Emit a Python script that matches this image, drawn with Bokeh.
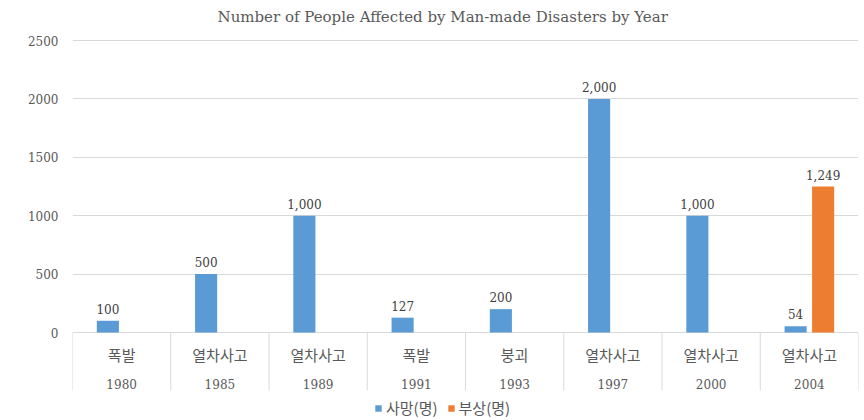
from bokeh.plotting import figure
from bokeh.models import ColumnDataSource, Range1d, FixedTicker, Legend, LegendItem
from bokeh.transform import dodge
from bokeh.core.properties import value
from bokeh.embed import file_html
from bokeh.resources import INLINE

# ---- data ----
disaster_types = ["폭발", "열차사고", "열차사고", "폭발", "붕괴", "열차사고", "열차사고", "열차사고"]
years = ["1980", "1985", "1989", "1991", "1993", "1997", "2000", "2004"]
deaths = [100, 500, 1000, 127, 200, 2000, 1000, 54]
injuries = [0, 0, 0, 0, 0, 0, 0, 1249]
y_ticks = [0, 500, 1000, 1500, 2000, 2500]
series_names = ["사망(명)", "부상(명)"]
title_text = "Number of People Affected by Man-made Disasters by Year"

# ---- styles ----
BLUE = "#5B9BD5"
ORANGE = "#ED7D31"
GRID = "#D9D9D9"
TXT = "#595959"
SERIF = "DejaVu Serif"
KR = "Noto Sans CJK KR"

n = len(years)
# pixel geometry: 0 at y=332, 2500 at y=40, frame from y=30 to 420
k = (332 - 40) / 2500.0
top_val = 2500 + (40 - 30) / k
bot_val = -(420 - 332) / k
type_y = -(354 - 332) / k
year_y = -(383 - 332) / k
sep_y = -(390 - 332) / k

p = figure(width=864, height=420, output_backend="svg", toolbar_location=None,
           x_range=Range1d(0, n), y_range=Range1d(bot_val, top_val),
           x_axis_location=None, min_border_left=72, min_border_right=6,
           min_border_top=30, min_border_bottom=0, outline_line_color=None)

p.title.text = title_text
p.title.text_font = SERIF
p.title.text_font_size = "15px"
p.title.text_font_style = "normal"
p.title.text_color = TXT
p.title.align = "left"
p.title.offset = 145
p.title.standoff = 9

yax = p.yaxis[0]
yax.ticker = FixedTicker(ticks=y_ticks)
yax.axis_line_color = None
yax.major_tick_line_color = None
yax.minor_tick_line_color = None
yax.major_tick_out = 0
yax.major_tick_in = 0
yax.major_label_standoff = 14
yax.major_label_text_font = SERIF
yax.major_label_text_font_size = "12px"
yax.major_label_text_color = TXT

p.xgrid.visible = False
p.ygrid.grid_line_color = GRID
p.ygrid.grid_line_width = 1

xs = [i + 0.5 for i in range(n)]
src = ColumnDataSource(dict(x=xs, types=disaster_types, years=years,
                            deaths=deaths, injuries=injuries))

r1 = p.vbar(x=dodge("x", -0.14, range=p.x_range), top="deaths", width=0.225,
            source=src, fill_color=BLUE, line_color=None)
r2 = p.vbar(x=dodge("x", 0.14, range=p.x_range), top="injuries", width=0.225,
            source=src, fill_color=ORANGE, line_color=None)

# value labels (non-zero only)
def lbl_source(vals, off):
    d = dict(x=[], y=[], t=[])
    for i, v in enumerate(vals):
        if v:
            d["x"].append(xs[i] + off)
            d["y"].append(v)
            d["t"].append(f"{v:,}")
    return ColumnDataSource(d)

for vals, off in ((deaths, -0.14), (injuries, 0.14)):
    p.text(x="x", y="y", text="t", source=lbl_source(vals, off),
           text_align="center", text_baseline="bottom", y_offset=-7,
           text_font=value(SERIF), text_font_size="12px", text_color="#404040")

# category band
p.segment(x0=list(range(n + 1)), y0=0, x1=list(range(n + 1)), y1=sep_y,
          line_color=GRID, line_width=1)
p.text(x="x", y=type_y, text="types", source=src, text_align="center",
       text_baseline="middle", text_font=value(KR), text_font_size="15px",
       text_color=TXT)
p.text(x="x", y=year_y, text="years", source=src, text_align="center",
       text_baseline="middle", text_font=value(SERIF), text_font_size="12px",
       text_color=TXT)

legend = Legend(items=[LegendItem(label=series_names[0], renderers=[r1]),
                       LegendItem(label=series_names[1], renderers=[r2])],
                location=(302, 2), orientation="horizontal",
                background_fill_alpha=0, border_line_color=None,
                glyph_width=8, glyph_height=8, label_standoff=4, spacing=9,
                padding=0, margin=0,
                label_text_font=KR, label_text_font_size="15px",
                label_text_color=TXT)
p.add_layout(legend)

open("out.html", "w").write(file_html(p, INLINE))
